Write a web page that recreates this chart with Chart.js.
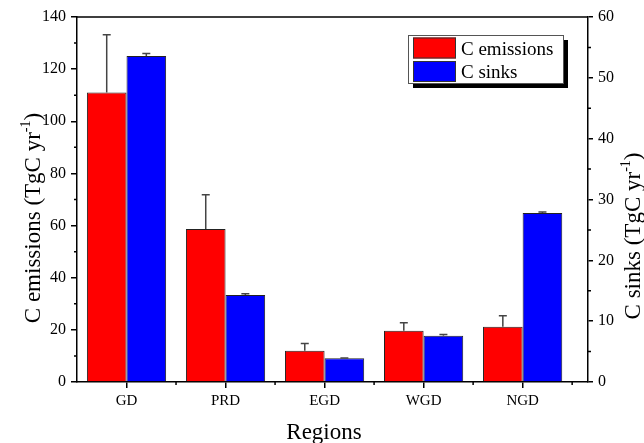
<!DOCTYPE html>
<html>
<head>
<meta charset="utf-8">
<script src="https://cdn.jsdelivr.net/npm/chart.js@4/dist/chart.umd.min.js"></script>
<style>
html, body { margin: 0; padding: 0; background: #fff; }
#wrap { width: 644px; height: 443px; position: relative; }
</style>
</head>
<body>
<div id="wrap"><canvas id="chart" width="644" height="443"></canvas></div>
<script>
// Data
const regions = ['GD', 'PRD', 'EGD', 'WGD', 'NGD'];
const emissions = [111.0, 58.7, 12.0, 19.7, 21.2];
const emissionsErr = [22.2, 13.1, 2.8, 3.0, 4.2];
const sinks = [53.6, 14.3, 3.9, 7.6, 27.8];
const sinksErr = [0.4, 0.2, 0.05, 0.2, 0.15];
const leftTicks = [0, 20, 40, 60, 80, 100, 120, 140];
const rightTicks = [0, 10, 20, 30, 40, 50, 60];

const SERIF = "'Liberation Serif', 'Times New Roman', serif";
const errors = [emissionsErr, sinksErr];

// Draw text with a superscript piece, centred on (cx, cy), optionally rotated
function drawTitle(c, base, sup, tail, cx, cy, size, rot) {
    c.save();
    c.translate(cx, cy);
    c.rotate(rot);
    c.fillStyle = '#000';
    c.textBaseline = 'alphabetic';
    c.textAlign = 'left';
    const supSize = Math.round(size * 0.6);
    c.font = `${size}px ${SERIF}`;
    const w1 = c.measureText(base).width;
    const w3 = c.measureText(tail).width;
    c.font = `${supSize}px ${SERIF}`;
    const w2 = sup ? c.measureText(sup).width : 0;
    let x = -(w1 + w2 + w3) / 2;
    c.font = `${size}px ${SERIF}`;
    c.fillText(base, x, 0);
    x += w1;
    if (sup) {
        c.font = `${supSize}px ${SERIF}`;
        c.fillText(sup, x, -size * 0.42);
        x += w2;
    }
    c.font = `${size}px ${SERIF}`;
    c.fillText(tail, x, 0);
    c.restore();
}

const decorPlugin = {
    id: 'decor',
    afterDatasetsDraw(chart) {
        const c = chart.ctx;
        const area = chart.chartArea;
        const xs = chart.scales.x, ys = chart.scales.y, ys1 = chart.scales.y1;

        // error bars (upper half only)
        [0, 1].forEach(di => {
            const meta = chart.getDatasetMeta(di);
            const scale = di === 0 ? ys : ys1;
            const vals = di === 0 ? emissions : sinks;
            c.save();
            c.strokeStyle = '#444';
            c.lineWidth = 1.5;
            meta.data.forEach((bar, i) => {
                const yTop = scale.getPixelForValue(vals[i] + errors[di][i]);
                c.beginPath();
                c.moveTo(bar.x, bar.y);
                c.lineTo(bar.x, yTop);
                c.moveTo(bar.x - 4, yTop);
                c.lineTo(bar.x + 4, yTop);
                c.stroke();
            });
            c.restore();
        });

        // frame top line + minor ticks
        c.save();
        c.strokeStyle = '#000';
        c.lineWidth = 1.5;
        c.beginPath();
        c.moveTo(area.left, area.top);
        c.lineTo(area.right, area.top);
        for (let v = 1.5; v < 5.6; v += 1) {
            const px = xs.getPixelForValue(v);
            c.moveTo(px, area.bottom);
            c.lineTo(px, area.bottom + 3);
        }
        for (let v = 10; v < 140; v += 20) {
            const py = ys.getPixelForValue(v);
            c.moveTo(area.left - 3, py);
            c.lineTo(area.left, py);
        }
        for (let v = 5; v < 60; v += 10) {
            const py = ys1.getPixelForValue(v);
            c.moveTo(area.right, py);
            c.lineTo(area.right + 3, py);
        }
        c.stroke();
        c.restore();

        // legend with drop shadow
        const lx = 408, ly = 35, lw = 155, lh = 48;
        c.save();
        c.fillStyle = '#000';
        c.fillRect(lx + 5, ly + 5, lw, lh);
        c.fillStyle = '#fff';
        c.fillRect(lx, ly, lw, lh);
        c.strokeStyle = '#555';
        c.lineWidth = 1;
        c.strokeRect(lx + 0.5, ly + 0.5, lw, lh);
        chart.data.datasets.forEach((ds, i) => {
            const sy = ly + 2.5 + i * 23.5;
            c.fillStyle = ds.backgroundColor;
            c.fillRect(lx + 5, sy, 43, 21);
            c.strokeStyle = '#333';
            c.strokeRect(lx + 5.5, sy + 0.5, 42, 20);
            c.fillStyle = '#000';
            c.font = `19px ${SERIF}`;
            c.textBaseline = 'alphabetic';
            c.fillText(ds.label, lx + 53, sy + 17);
        });
        c.restore();

        // axis titles
        drawTitle(c, 'C emissions (TgC yr', '-1', ')', 40, 218, 23, -Math.PI / 2);
        drawTitle(c, 'C sinks (TgC yr', '-1', ')', 640, 236, 23, -Math.PI / 2);
        drawTitle(c, 'Regions', '', '', 324, 439, 23, 0);
    }
};

const tickFont = { family: SERIF, size: 16 };

new Chart(document.getElementById('chart').getContext('2d'), {
    type: 'bar',
    data: {
        datasets: [
            {
                label: 'C emissions',
                data: emissions.map((v, i) => ({ x: i + 1, y: v })),
                backgroundColor: '#ff0000',
                borderColor: '#222',
                borderWidth: 1,
                yAxisID: 'y',
                categoryPercentage: 0.8,
                barPercentage: 1
            },
            {
                label: 'C sinks',
                data: sinks.map((v, i) => ({ x: i + 1, y: v })),
                backgroundColor: '#0000ff',
                borderColor: '#222',
                borderWidth: 1,
                yAxisID: 'y1',
                categoryPercentage: 0.8,
                barPercentage: 1
            }
        ]
    },
    options: {
        responsive: false,
        animation: false,
        devicePixelRatio: 1,
        layout: { padding: { top: 17, left: 0, right: 0, bottom: 0 } },
        plugins: { legend: { display: false }, tooltip: { enabled: false } },
        scales: {
            x: {
                type: 'linear',
                position: 'bottom',
                offset: false,
                min: 0.5,
                max: 5.66,
                afterBuildTicks: s => { s.ticks = regions.map((r, i) => ({ value: i + 1 })); },
                afterFit: s => { s.height = 61; },
                grid: { offset: false, drawOnChartArea: false, drawTicks: true, tickLength: 6, color: '#000', lineWidth: 1.5 },
                border: { display: true, color: '#000', width: 1.5 },
                ticks: {
                    font: { family: SERIF, size: 15 },
                    color: '#000',
                    padding: 4,
                    autoSkip: false,
                    maxRotation: 0,
                    callback: v => regions[v - 1] ?? ''
                }
            },
            y: {
                type: 'linear',
                position: 'left',
                min: 0,
                max: 140,
                afterBuildTicks: s => { s.ticks = leftTicks.map(v => ({ value: v })); },
                afterFit: s => { s.width = 77; },
                grid: { drawOnChartArea: false, drawTicks: true, tickLength: 6, color: '#000', lineWidth: 1.5 },
                border: { display: true, color: '#000', width: 1.5 },
                ticks: { font: tickFont, color: '#000', padding: 5 }
            },
            y1: {
                type: 'linear',
                position: 'right',
                min: 0,
                max: 60,
                afterBuildTicks: s => { s.ticks = rightTicks.map(v => ({ value: v })); },
                afterFit: s => { s.width = 56; },
                grid: { drawOnChartArea: false, drawTicks: true, tickLength: 5, color: '#000', lineWidth: 1.5 },
                border: { display: true, color: '#000', width: 1.5 },
                ticks: { font: tickFont, color: '#000', padding: 5 }
            }
        }
    },
    plugins: [decorPlugin]
});
</script>
</body>
</html>
